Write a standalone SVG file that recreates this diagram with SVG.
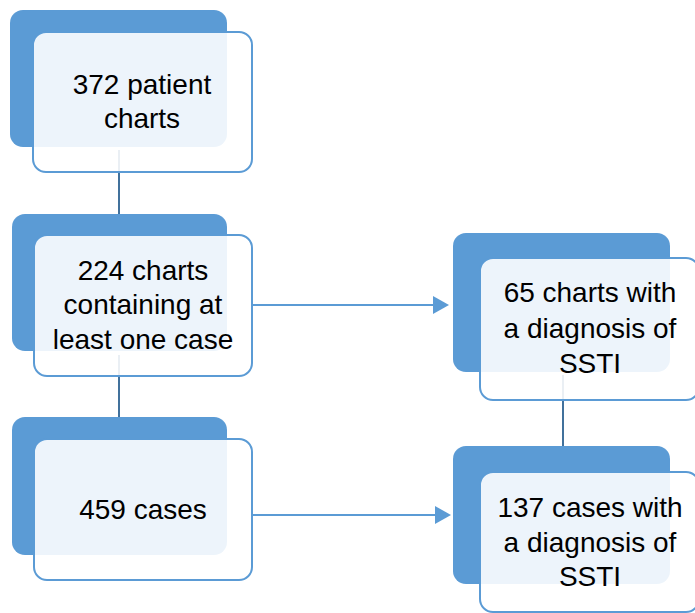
<svg xmlns="http://www.w3.org/2000/svg" width="695" height="613" viewBox="0 0 695 613">
<style>
.back{fill:#5B9BD5}
.front{fill:#FFFFFF;fill-opacity:0.89;stroke:#5B9BD5;stroke-width:2}
.t{font-family:"Liberation Sans",Arial,sans-serif;font-size:28px;fill:#000;text-anchor:middle}
.v{stroke:#41719C;stroke-width:2;fill:none}
.h{stroke:#5B9BD5;stroke-width:2;fill:none}
</style>
<defs>
<marker id="arr" markerWidth="10" markerHeight="10" refX="9" refY="5" orient="auto" markerUnits="userSpaceOnUse">
<path d="M0,0 L10,5 L0,10 Z" fill="#5B9BD5" transform="scale(1.6) translate(-3.5,-1.9)"/>
</marker>
</defs>
<rect width="695" height="613" fill="#FFFFFF"/>
<g id="connectors">
<line class="v" x1="119" y1="150" x2="119" y2="214"/>
<line class="v" x1="119" y1="355" x2="119" y2="417"/>
<line class="v" x1="563" y1="375" x2="563" y2="446"/>
<line class="h" x1="252" y1="305" x2="435" y2="305"/>
<path d="M433,296 L449,305 L433,314 Z" fill="#5B9BD5"/>
<line class="h" x1="252" y1="515" x2="437" y2="515"/>
<path d="M435,506 L451,515 L435,524 Z" fill="#5B9BD5"/>
</g>
<g id="n1">
<rect class="back" x="10" y="10" width="217" height="137" rx="13"/>
<rect class="front" x="33" y="32" width="219" height="140" rx="13"/>
<text class="t" x="142" y="94">372 patient</text>
<text class="t" x="142" y="128">charts</text>
</g>
<g id="n2">
<rect class="back" x="12" y="214" width="215" height="137" rx="13"/>
<rect class="front" x="34" y="235" width="218" height="141" rx="13"/>
<text class="t" x="143" y="280">224 charts</text>
<text class="t" x="143" y="314">containing at</text>
<text class="t" x="143" y="349">least one case</text>
</g>
<g id="n3">
<rect class="back" x="12" y="417" width="215" height="138" rx="13"/>
<rect class="front" x="34" y="439" width="218" height="141" rx="13"/>
<text class="t" x="143" y="519">459 cases</text>
</g>
<g id="n4">
<rect class="back" x="453" y="233" width="217" height="139" rx="13"/>
<rect class="front" x="480" y="258" width="219" height="142" rx="13"/>
<text class="t" x="590" y="302">65 charts with</text>
<text class="t" x="590" y="338">a diagnosis of</text>
<text class="t" x="590" y="373">SSTI</text>
</g>
<g id="n5">
<rect class="back" x="453" y="446" width="217" height="138" rx="13"/>
<rect class="front" x="480" y="472" width="219" height="140" rx="13"/>
<text class="t" x="590" y="517">137 cases with</text>
<text class="t" x="590" y="552">a diagnosis of</text>
<text class="t" x="590" y="586">SSTI</text>
</g>
</svg>
